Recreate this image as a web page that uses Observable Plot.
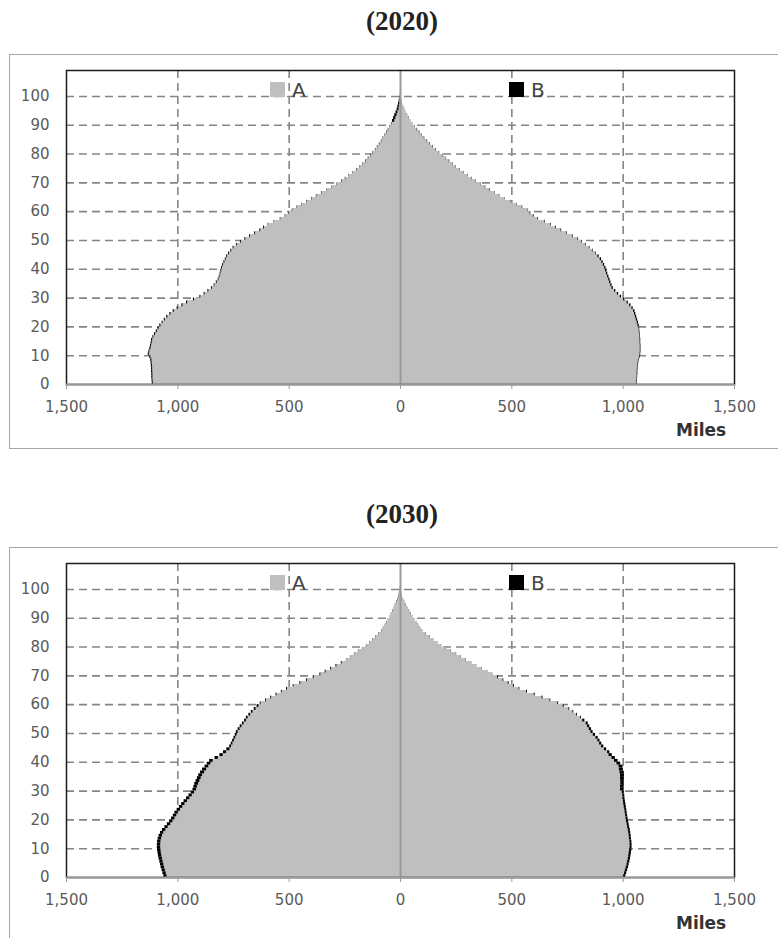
<!DOCTYPE html>
<html><head><meta charset="utf-8">
<script src="https://cdn.jsdelivr.net/npm/d3@7"></script>
<script src="https://cdn.jsdelivr.net/npm/@observablehq/plot@0.6"></script>
<style>
body{margin:0;background:#fff;overflow:hidden;}
#page{position:relative;width:778px;height:938px;overflow:hidden;}
.title{position:absolute;left:290px;width:224px;text-align:center;font-family:"Liberation Serif",serif;font-weight:bold;font-size:27px;line-height:30px;color:#222;}
.box{position:absolute;left:9px;width:820px;border:1.5px solid #a6a6a6;}
.chart{position:absolute;left:0;}
.leg{position:absolute;font-family:"DejaVu Sans",sans-serif;font-size:20px;line-height:20px;color:#444;}
.sw{position:absolute;width:15px;height:15px;}
.miles{position:absolute;left:676px;font-family:"DejaVu Sans",sans-serif;font-weight:bold;font-size:17px;line-height:18px;color:#333;}
</style></head>
<body><div id="page"></div>
<script>
// Age categories (one bar per year of age)
const ages = d3.range(0, 101);
const xTicks = [-1500, -1000, -500, 0, 500, 1000, 1500];
const yTicks = [0, 10, 20, 30, 40, 50, 60, 70, 80, 90, 100];
const seriesNames = ["A", "B"];
const years = ["(2020)", "(2030)"];

// 2020 — left side
const a2020L = [1110,1111,1112,1112,1113,1113,1114,1115,1117,1121,
  1128,1125,1121,1118,1115,1113,1107,1100,1092,1084,1076,1066,1056,1045,1031,1016,998,977,956,925,
  897,878,861,845,833,823,815,810,806,803,800,795,789,783,777,768,758,748,733,715,695,674,651,628,611,
  593,566,538,516,500,484,464,442,420,398,376,353,330,307,285,263,246,229,212,196,181,168,155,143,132,121,111,102,93,84,76,68,61,53,46,39,
  26,21,16,11,7,5,3,2,1,0];
const b2020L = [5,5,5,5,5,5,5,5,5,5, 5,5,5,5,5,5,5,5,5,5, 5,5,5,5,5,5,5,5,5,5,
  4,4,4,4,4,4,4,4,4,4, 4,4,4,4,4,4,4,4,4,4, 4,4,4,4,4,
  2,2,2,2,2,2,2,2,2,2, 2,2,2,2,2,2,2,2,2,2, 2,2,2,2,2,2,2,2,2,2, 2,2,2,2,2,2,
  10,10,10,9,8,7,6,4,3,1];
// 2020 — right side
const a2020R = [1061,1061,1062,1063,1063,1064,1065,1067,1069,1073,1076,1077,1077,1077,1076,1076,1075,1074,1072,1071,
  1066,1063,1059,1055,1051,1047,1039,1029,1017,1002,987,974,961,950,944,939,935,930,925,921,917,911,904,897,886,
  876,862,848,831,814,796,773,747,721,697,675,647,617,597,582,
  571,547,521,495,469,444,423,402,381,360,339,320,302,284,266,249,234,219,204,189,174,160,146,133,120,107,96,85,75,65,
  56,47,39,31,24,19,13,8,5,3,1];
const b2020R = [3,3,3,3,3,3,3,3,3,3, 3,3,3,3,3,3,3,3,3,3,
  6,6,6,6,6,6,6,6,6,6, 6,6,6,6,6,6,6,6,6,6, 6,6,6,6,6,
  3,3,3,3,3,3,3,3,3,3, 3,3,3,3,3,
  2,2,2,2,2,2,2,2,2,2, 2,2,2,2,2,2,2,2,2,2, 2,2,2,2,2,2,2,2,2,2,
  1,1,1,1,1,1,1,1,1,1,1];

// 2030 — left side
const a2030L = [1048,1052,1056,1060,1063,1066,1069,1072,1074,1076,1077,1077,1076,1073,1069,1063,1054,1043,1032,1022,
  1013,1005,998,988,978,968,957,946,935,925,916,912,907,901,895,889,880,871,861,851,841,818,796,781,766,
  759,752,746,740,734,729,721,712,702,692,684,673,662,649,636,
  626,602,579,555,531,508,478,448,418,388,358,334,310,286,262,
  242,224,206,188,170,152,138,124,111,97,84,77,69,62,54,47,41,35,29,23,17,12,8,5,3,1];
const b2030L = [15,15,15,15,15,15,15,15,15,15, 15,15,15,15,15,15,15,15,15,15,
  15,15,15,15,15,15,15,15,15,15, 16,16,17,17,17,17,18,18,17,17, 16,15,15,14,14,
  8,8,8,8,8,8,8,8,8,8, 8,8,8,8,8,
  4,4,4,4,4,4,4,4,4,4, 4,4,4,4,4,
  1,1,1,1,1,1,1,1,1,1, 1,1,1,1,1,1,1,1,1,1, 1,1,1,1,1,1];
// 2030 — right side
const a2030R = [1002,1006,1010,1014,1017,1020,1023,1025,1027,1029,
  1031,1031,1030,1028,1027,1025,1023,1020,1018,1015,1013,1011,1009,1007,1005,1003,1001,999,998,996,
  988,988,989,989,988,988,986,983,981,972,961,949,936,
  930,916,903,894,886,878,866,855,848,840,833,818,
  809,791,774,756,731,706,671,636,601,566,532,508,484,460,436,
  415,391,367,343,319,295,273,251,228,206,184,167,150,133,116,100,91,82,74,65,56,48,40,33,26,19,13,8,5,3,1];
const b2030R = [10,10,10,10,10,10,10,10,10,10,
  9,9,9,9,9,9,9,9,9,9, 9,9,9,9,9,9,9,9,9,9,
  15,15,16,16,17,18,18,18,18,17,16,16,15,
  10,10,10,10,10,10,10,10,10,10,10,10,
  4,4,4,4,4,4,4,4,4,4, 4,4,4,4,4,
  1,1,1,1,1,1,1,1,1,1, 1,1,1,1,1,1,1,1,1,1, 1,1,1,1,1,1,1,1,1,1,1];

const GREY = "#bfbfbf", BLACK = "#000000";
const fmt = d3.format(",");

function pyramid(aL, bL, aR, bR) {
  const rows = ages.map((age, i) => ({age, aL: aL[i], bL: bL[i], aR: aR[i], bR: bR[i]}));
  return Plot.plot({
    width: 778, height: 380,
    marginLeft: 66, marginRight: 44, marginTop: 16, marginBottom: 50,
    x: {domain: [-1500, 1500]},
    y: {domain: [0, 109]},
    style: {background: "transparent", fontFamily: "DejaVu Sans, sans-serif", fontSize: "15px", color: "#5a5a5a", overflow: "visible"},
    marks: [
      Plot.ruleY(yTicks.filter(t => t > 0), {stroke: "#858585", strokeWidth: 1.6, strokeDasharray: "8,5", strokeOpacity: 1}),
      Plot.ruleX(xTicks.filter(t => t !== 0 && Math.abs(t) < 1500), {stroke: "#858585", strokeWidth: 1.6, strokeDasharray: "8,5", strokeOpacity: 1}),
      Plot.rect(rows, {x1: 0, x2: d => -d.aL, y1: "age", y2: d => d.age + 1, fill: GREY, shapeRendering: "crispEdges"}),
      Plot.rect(rows, {x1: 0, x2: d => d.aR, y1: "age", y2: d => d.age + 1, fill: GREY, shapeRendering: "crispEdges"}),
      Plot.rect(rows, {x1: d => -d.aL, x2: d => -(d.aL + d.bL), y1: "age", y2: d => d.age + 1, fill: BLACK}),
      Plot.rect(rows, {x1: d => d.aR, x2: d => d.aR + d.bR, y1: "age", y2: d => d.age + 1, fill: BLACK}),
      Plot.ruleX([0], {stroke: "#999999", strokeWidth: 2}),
      Plot.frame({stroke: "#1a1a1a", strokeWidth: 1.5}),
      Plot.ruleY([0], {stroke: "#999999", strokeWidth: 2}),
      Plot.axisX(xTicks, {tickSize: 5, tickPadding: 12, stroke: "#999999", tickFormat: d => fmt(Math.abs(d)), label: null}),
      Plot.axisY(yTicks, {tickSize: 0, tickPadding: 17, label: null})
    ]
  });
}

const page = document.getElementById("page");
function add(html, cls, style) {
  const el = document.createElement("div");
  el.className = cls;
  el.setAttribute("style", style);
  el.textContent = html;
  page.appendChild(el);
  return el;
}

const panels = [
  {year: years[0], top: 54, data: [a2020L, b2020L, a2020R, b2020R], boxH: 393},
  {year: years[1], top: 547, data: [a2030L, b2030L, a2030R, b2030R], boxH: 500}
];

panels.forEach(p => {
  add(p.year, "title", `top:${p.top - 48}px;`);
  add("", "box", `top:${p.top}px;height:${p.boxH}px;`);
  const svg = pyramid(...p.data);
  svg.classList.add("chart");
  svg.style.position = "absolute";
  svg.style.left = "0px";
  svg.style.top = p.top + "px";
  page.appendChild(svg);
  // legend
  add("", "sw", `left:270px;top:${p.top + 28}px;background:${GREY};`);
  add(seriesNames[0], "leg", `left:292px;top:${p.top + 26}px;`);
  add("", "sw", `left:509px;top:${p.top + 28}px;background:${BLACK};`);
  add(seriesNames[1], "leg", `left:531px;top:${p.top + 26}px;`);
  add("Miles", "miles", `top:${p.top + 367}px;`);
});
</script>
</body></html>
